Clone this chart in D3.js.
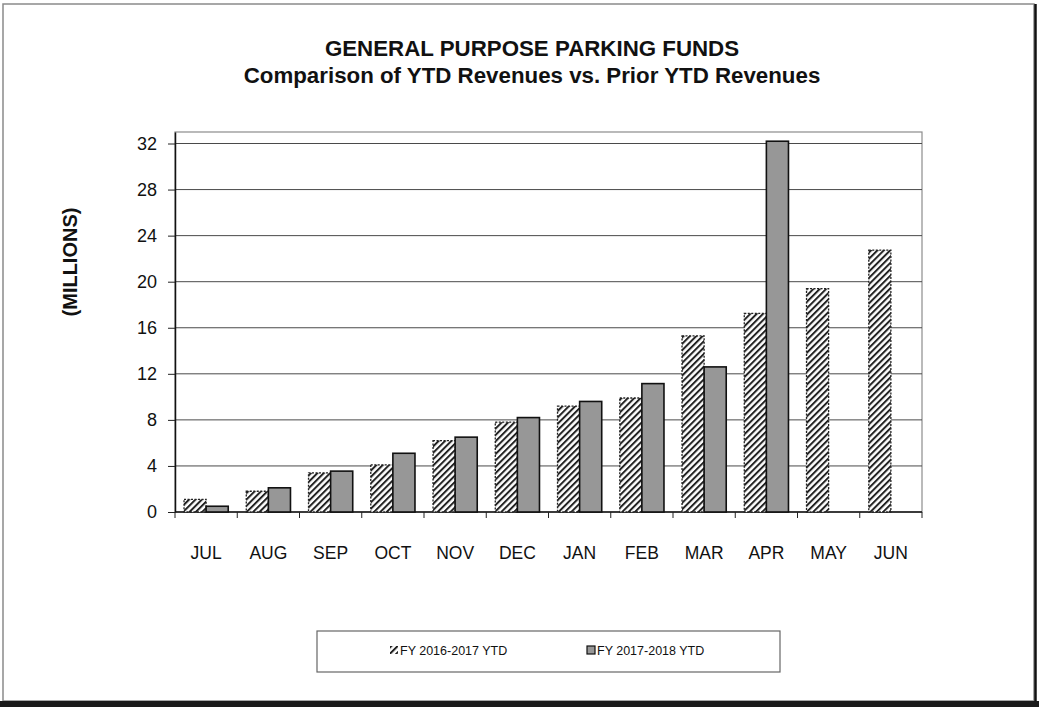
<!DOCTYPE html>
<html>
<head>
<meta charset="utf-8">
<script src="https://cdn.jsdelivr.net/npm/d3@7"></script>
<style>
  html, body { margin: 0; padding: 0; background: #fff; }
  svg { display: block; font-family: "Liberation Sans", Arial, sans-serif; }
</style>
</head>
<body>
<svg id="chart" width="1039" height="707"></svg>
<script>
// Month categories (fiscal year starts in July)
const months = ["JUL", "AUG", "SEP", "OCT", "NOV", "DEC", "JAN", "FEB", "MAR", "APR", "MAY", "JUN"];
// Year-to-date revenues, millions
const fy1617 = [1.1, 1.8, 3.4, 4.1, 6.2, 7.8, 9.2, 9.9, 15.3, 17.25, 19.4, 22.75];
const fy1718 = [0.5, 2.1, 3.55, 5.1, 6.5, 8.2, 9.6, 11.15, 12.6, 32.2, null, null];
const seriesNames = ["FY 2016-2017 YTD", "FY 2017-2018 YTD"];
const yTicks = [0, 4, 8, 12, 16, 20, 24, 28, 32];

const svg = d3.select("#chart");

// hatch pattern for the prior-year series
const defs = svg.append("defs");
const pat = defs.append("pattern")
  .attr("id", "hatch")
  .attr("patternUnits", "userSpaceOnUse")
  .attr("width", 4.5).attr("height", 4.5)
  .attr("patternTransform", "rotate(45)");
pat.append("rect").attr("width", 4.5).attr("height", 4.5).attr("fill", "#fff");
pat.append("rect").attr("x", 0).attr("y", 0).attr("width", 2).attr("height", 4.5).attr("fill", "#222");

// page frame
svg.append("rect").attr("x", 3).attr("y", 4).attr("width", 1031).attr("height", 697)
  .attr("fill", "none").attr("stroke", "#8a8a8a").attr("stroke-width", 1.5);
svg.append("line").attr("x1", 1035.5).attr("x2", 1035.5).attr("y1", 4).attr("y2", 707)
  .attr("stroke", "#111").attr("stroke-width", 2.5);
svg.append("rect").attr("x", 0).attr("y", 701).attr("width", 1039).attr("height", 6).attr("fill", "#1a1a1a");

// titles
svg.append("text").attr("x", 532).attr("y", 56).attr("text-anchor", "middle")
  .attr("font-size", 22.3).attr("font-weight", "bold").attr("fill", "#111")
  .text("GENERAL PURPOSE PARKING FUNDS");
svg.append("text").attr("x", 532).attr("y", 83).attr("text-anchor", "middle")
  .attr("font-size", 22.3).attr("font-weight", "bold").attr("fill", "#111")
  .text("Comparison of YTD Revenues vs. Prior YTD Revenues");

// plot area
const plotLeft = 175, plotRight = 922, plotTop = 132, plotBottom = 512;

const x0 = d3.scaleBand().domain(months).range([plotLeft, plotRight]).paddingInner(0).paddingOuter(0);
const bw = x0.bandwidth();
const x1 = d3.scaleBand().domain([0, 1]).range([bw * 0.145, bw * 0.855]).padding(0);
const y = d3.scaleLinear().domain([0, 33]).range([plotBottom, plotTop]);

// plot border (top / right)
svg.append("rect").attr("x", plotLeft).attr("y", plotTop)
  .attr("width", plotRight - plotLeft).attr("height", plotBottom - plotTop)
  .attr("fill", "none").attr("stroke", "#8c8c8c").attr("stroke-width", 1.2);

// horizontal gridlines
svg.append("g").selectAll("line").data(yTicks.filter(d => d > 0)).join("line")
  .attr("x1", plotLeft).attr("x2", plotRight)
  .attr("y1", d => y(d)).attr("y2", d => y(d))
  .attr("stroke", "#4a4a4a").attr("stroke-width", 1);

// y axis
const yAxis = svg.append("g").attr("transform", `translate(${plotLeft},0)`)
  .call(d3.axisLeft(y).tickValues(yTicks).tickSize(7).tickPadding(11).tickSizeOuter(0));
yAxis.select(".domain").attr("stroke", "#111").attr("stroke-width", 1.5);
yAxis.selectAll(".tick line").attr("stroke", "#222");
yAxis.selectAll(".tick text").attr("font-size", 18).attr("fill", "#111")
  .attr("font-family", "'Liberation Sans', Arial, sans-serif");

// x axis with ticks at category boundaries
const xAxisG = svg.append("g").attr("transform", `translate(0,${plotBottom})`);
xAxisG.append("line").attr("x1", plotLeft).attr("x2", plotRight).attr("y1", 0).attr("y2", 0)
  .attr("stroke", "#111").attr("stroke-width", 1.5);
const bounds = months.map(m => x0(m)).concat([plotRight]);
xAxisG.selectAll("line.tk").data(bounds).join("line").attr("class", "tk")
  .attr("x1", d => d).attr("x2", d => d).attr("y1", 0).attr("y2", 6)
  .attr("stroke", "#222").attr("stroke-width", 1);
xAxisG.selectAll("text").data(months).join("text")
  .attr("x", d => x0(d) + bw / 2).attr("y", 47)
  .attr("text-anchor", "middle").attr("font-size", 17.5).attr("fill", "#111")
  .text(d => d);

// bars
const bars = svg.append("g");
months.forEach((m, i) => {
  const vals = [fy1617[i], fy1718[i]];
  vals.forEach((v, s) => {
    if (v == null) return;
    const r = bars.append("rect")
      .attr("x", x0(m) + x1(s))
      .attr("y", y(v))
      .attr("width", x1.bandwidth())
      .attr("height", y(0) - y(v));
    if (s === 0) {
      r.attr("fill", "url(#hatch)").attr("stroke", "#222").attr("stroke-width", 1.3)
        .attr("stroke-dasharray", "2,1.5");
    } else {
      r.attr("fill", "#979797").attr("stroke", "#111").attr("stroke-width", 1.6);
    }
  });
});

// y-axis title
svg.append("text")
  .attr("transform", "translate(77,262) rotate(-90)")
  .attr("text-anchor", "middle").attr("font-size", 20).attr("font-weight", "bold").attr("fill", "#111")
  .text("(MILLIONS)");

// legend
const lg = svg.append("g");
lg.append("rect").attr("x", 317).attr("y", 631).attr("width", 463).attr("height", 41)
  .attr("fill", "#fff").attr("stroke", "#666").attr("stroke-width", 1.2);
const legendX = [390, 587];
seriesNames.forEach((name, s) => {
  const g = lg.append("g").attr("transform", `translate(${legendX[s]},646)`);
  g.append("rect").attr("x", 0).attr("y", 0).attr("width", 8).attr("height", 8)
    .attr("fill", s === 0 ? "url(#hatch)" : "#979797")
    .attr("stroke", s === 0 ? "none" : "#111").attr("stroke-width", 1.2);
  g.append("text").attr("x", 10).attr("y", 8.5).attr("font-size", 12.5).attr("fill", "#111")
    .text(name);
});
</script>
</body>
</html>
